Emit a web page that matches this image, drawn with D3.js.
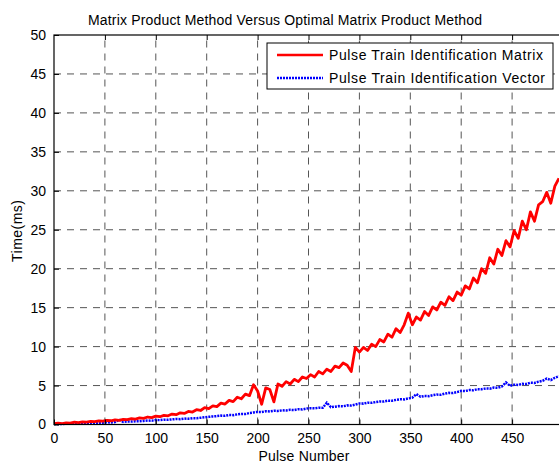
<!DOCTYPE html>
<html>
<head>
<meta charset="utf-8">
<script src="https://cdn.jsdelivr.net/npm/d3@7"></script>
<style>
  body { margin: 0; background: #fff; }
  svg { display: block; font-family: "Liberation Sans", Arial, sans-serif; }
  .grid line { stroke: #555; stroke-dasharray: 7,6; stroke-width: 1; }
</style>
</head>
<body>
<div id="chart"></div>
<script>
// pulse numbers sampled every 4 pulses: 0, 4, ... 496
var pulseStep = 4;

var matrixTimes = [
  0.10,0.18,0.12,0.22,0.18,0.30,0.24,0.34,0.30,0.40,
  0.36,0.46,0.42,0.52,0.48,0.60,0.54,0.66,0.62,0.74,
  0.70,0.84,0.78,0.96,0.88,1.08,1.00,1.18,1.12,1.34,
  1.26,1.50,1.42,1.68,1.60,1.90,1.80,2.16,2.04,2.40,
  2.30,2.74,2.62,3.10,2.94,3.50,3.30,3.90,3.70,5.10,
  4.30,2.60,4.70,4.50,2.90,5.20,4.90,5.50,5.20,5.80,
  5.50,6.10,5.90,6.40,6.10,6.80,6.50,7.10,6.80,7.50,
  7.30,7.90,7.60,6.80,9.90,9.30,9.90,9.50,10.30,10.00,
  10.90,10.60,11.60,11.20,12.30,11.80,12.80,14.30,12.80,13.80,
  13.40,14.50,14.00,15.10,14.70,15.70,15.30,16.40,15.90,17.00,
  16.60,17.80,17.40,18.80,18.20,20.00,19.40,21.40,20.60,22.50,
  21.70,23.60,22.80,24.90,23.90,26.10,25.00,27.30,26.10,28.20,
  28.60,29.80,28.40,30.60,31.60
];

var vectorTimes = [
  0.05,0.08,0.07,0.11,0.10,0.14,0.13,0.17,0.16,0.20,
  0.19,0.24,0.23,0.28,0.27,0.31,0.62,0.34,0.38,0.37,
  0.42,0.41,0.46,0.50,0.49,0.58,0.56,0.62,0.61,0.66,
  0.70,0.69,0.76,0.74,0.81,0.80,0.87,0.92,0.98,1.04,
  1.08,1.14,1.12,1.22,1.20,1.30,1.36,1.34,1.48,1.55,
  1.62,1.60,1.70,1.68,1.76,1.74,1.82,1.80,1.88,1.86,
  1.96,1.94,2.04,2.10,2.08,2.16,2.14,2.80,2.22,2.28,
  2.36,2.34,2.46,2.44,2.56,2.70,2.68,2.80,2.78,2.88,
  2.96,2.94,3.06,3.04,3.16,3.24,3.22,3.34,3.44,3.90,
  3.56,3.66,3.64,3.76,3.84,3.82,3.96,4.06,4.04,4.16,
  4.32,4.30,4.42,4.40,4.54,4.52,4.62,4.60,4.74,4.72,
  4.88,5.40,4.96,5.10,5.08,5.22,5.20,5.36,5.34,5.50,
  5.60,5.90,5.70,6.00,6.20
];

var xTicks = [0, 50, 100, 150, 200, 250, 300, 350, 400, 450];
var yTicks = [0, 5, 10, 15, 20, 25, 30, 35, 40, 45, 50];
var seriesNames = ['Pulse Train Identification Matrix', 'Pulse Train Identification Vector'];

var W = 559, H = 463;
var margin = { top: 35, left: 54 };
var plotRight = 563, plotBottom = 424.5;

var svg = d3.select('#chart').append('svg')
  .attr('width', W)
  .attr('height', H);

var x = d3.scaleLinear().domain([0, 500]).range([margin.left, plotRight]);
var y = d3.scaleLinear().domain([0, 50]).range([plotBottom, margin.top]);

// grid
var grid = svg.append('g').attr('class', 'grid');
grid.selectAll('.vx').data(xTicks.slice(1)).enter().append('line')
  .attr('x1', function(d){ return x(d); }).attr('x2', function(d){ return x(d); })
  .attr('y1', y(0)).attr('y2', y(50));
grid.selectAll('.hy').data(yTicks.slice(1, -1)).enter().append('line')
  .attr('x1', x(0)).attr('x2', x(500))
  .attr('y1', function(d){ return y(d); }).attr('y2', function(d){ return y(d); });

// series
var line = d3.line()
  .x(function(d, i){ return x(i * pulseStep); })
  .y(function(d){ return y(d); });

svg.append('path')
  .attr('d', line(vectorTimes))
  .attr('fill', 'none')
  .attr('stroke', '#0000ff')
  .attr('stroke-width', 2.5)
  .attr('stroke-dasharray', '2,1');

svg.append('path')
  .attr('d', line(matrixTimes))
  .attr('fill', 'none')
  .attr('stroke', '#ff0000')
  .attr('stroke-width', 2.8)
  .attr('stroke-linejoin', 'round');

// axes, ticks inward
var axisFont = function(g){
  g.select('.domain').remove();
  g.selectAll('text').style('font-size', '14px').attr('fill', '#000');
  g.selectAll('line').attr('stroke', '#000');
};

svg.append('g')
  .attr('transform', 'translate(0,' + plotBottom + ')')
  .call(d3.axisBottom(x).tickValues(xTicks).tickSizeInner(-5).tickPadding(9).tickSizeOuter(0))
  .call(axisFont);

svg.append('g')
  .attr('transform', 'translate(0,' + margin.top + ')')
  .call(d3.axisTop(x).tickValues(xTicks.slice(1)).tickSizeInner(-5).tickFormat('').tickSizeOuter(0))
  .call(axisFont);

svg.append('g')
  .attr('transform', 'translate(' + margin.left + ',0)')
  .call(d3.axisLeft(y).tickValues(yTicks).tickSizeInner(-5).tickPadding(8).tickSizeOuter(0))
  .call(axisFont);

// frame
svg.append('rect')
  .attr('x', margin.left).attr('y', margin.top)
  .attr('width', plotRight - margin.left).attr('height', plotBottom - margin.top)
  .attr('fill', 'none').attr('stroke', '#000').attr('stroke-width', 1.2);

// title and labels
svg.append('text')
  .attr('x', 285).attr('y', 25)
  .style('text-anchor', 'middle')
  .style('font-size', '14px')
  .attr('textLength', 394).attr('lengthAdjust', 'spacing')
  .text('Matrix Product Method Versus Optimal Matrix Product Method');

svg.append('text')
  .attr('x', 304).attr('y', 460.5)
  .style('text-anchor', 'middle')
  .style('font-size', '14px')
  .attr('textLength', 91).attr('lengthAdjust', 'spacing')
  .text('Pulse Number');

svg.append('text')
  .attr('transform', 'rotate(-90)')
  .attr('x', -231).attr('y', 22)
  .style('text-anchor', 'middle')
  .style('font-size', '14px')
  .attr('textLength', 62).attr('lengthAdjust', 'spacing')
  .text('Time(ms)');

// legend
var legend = svg.append('g');
legend.append('rect')
  .attr('x', 267).attr('y', 43).attr('width', 286).attr('height', 46)
  .attr('fill', '#fff').attr('stroke', '#000').attr('stroke-width', 1);
var legendStyles = [
  { color: '#ff0000', width: 2.5, dash: null, len: 214 },
  { color: '#0000ff', width: 2.5, dash: '2,1', len: 216 }
];
seriesNames.forEach(function(name, i){
  var ly = 55 + i * 23;
  legend.append('line')
    .attr('x1', 277).attr('x2', 323).attr('y1', ly).attr('y2', ly)
    .attr('stroke', legendStyles[i].color)
    .attr('stroke-width', legendStyles[i].width)
    .attr('stroke-dasharray', legendStyles[i].dash);
  legend.append('text')
    .attr('x', 329).attr('y', ly + 5)
    .style('font-size', '14px')
    .attr('textLength', legendStyles[i].len).attr('lengthAdjust', 'spacing')
    .text(name);
});
</script>
</body>
</html>
